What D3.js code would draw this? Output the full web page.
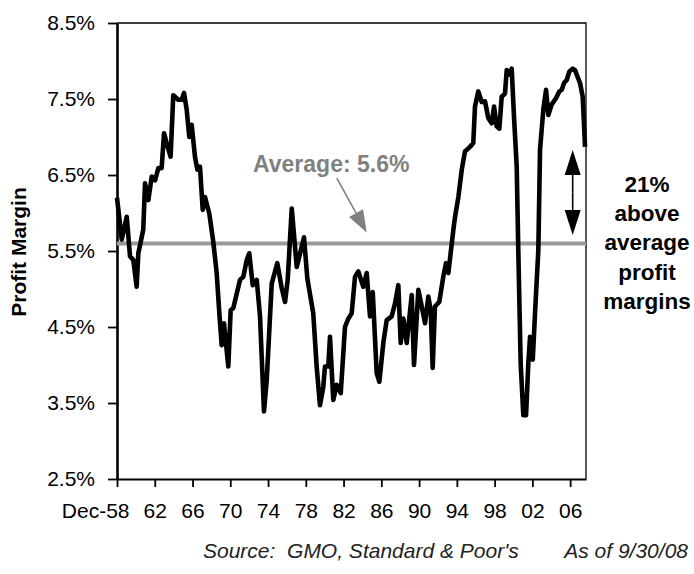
<!DOCTYPE html>
<html>
<head>
<meta charset="utf-8">
<script src="https://cdn.jsdelivr.net/npm/d3@7"></script>
<style>
  body { margin: 0; background: #fff; }
  svg { display: block; font-family: "Liberation Sans", Arial, sans-serif; }
</style>
</head>
<body>
<div id="chart"></div>
<script>
// quarterly-ish readings, decimal year -> profit margin (%)
const years = [
  1958.92, 1959.42, 1959.95, 1960.3, 1960.65, 1961.0, 1961.18, 1961.7, 1961.89, 1962.24,
  1962.6, 1962.95, 1963.3, 1963.65, 1963.9, 1964.18, 1964.6, 1964.88, 1965.41, 1965.77,
  1966.02, 1966.3, 1966.58, 1966.83, 1967.18, 1967.43, 1967.71, 1968.0, 1968.24, 1968.7,
  1969.12, 1969.48, 1969.76, 1970.01, 1970.25, 1970.71, 1970.96, 1971.24, 1971.95, 1972.3,
  1972.66, 1972.93, 1973.3, 1973.72, 1974.07, 1974.49, 1974.78, 1975.31, 1975.9, 1976.37,
  1976.72, 1977.0, 1977.43, 1977.96, 1978.73, 1979.08, 1979.71, 1980.07, 1980.42, 1980.77,
  1980.95, 1981.3, 1981.48, 1981.83, 1982.19, 1982.62, 1983.07, 1983.42, 1983.78, 1984.13,
  1984.48, 1985.01, 1985.37, 1985.72, 1986.01, 1986.43, 1986.71, 1987.13, 1987.49, 1988.02,
  1988.37, 1988.72, 1988.97, 1989.25, 1989.61, 1990.14, 1990.38, 1990.84, 1991.2, 1991.55,
  1991.9, 1992.15, 1992.36, 1992.6, 1993.06, 1993.48, 1993.77, 1994.02, 1994.55, 1994.73,
  1995.08, 1995.44, 1995.78, 1996.31, 1996.66, 1996.84, 1997.19, 1997.55, 1997.9, 1998.25,
  1998.61, 1998.86, 1999.14, 1999.42, 1999.67, 2000.02, 2000.2, 2000.47, 2000.73, 2000.97,
  2001.26, 2001.43, 2001.68, 2001.96, 2002.25, 2002.49, 2002.67, 2002.96, 2003.2, 2003.55,
  2003.73, 2004.08, 2004.37, 2004.61, 2004.97, 2005.42, 2005.77, 2006.03, 2006.27, 2006.56,
  2006.83, 2007.19, 2007.44, 2007.62, 2007.97, 2008.25, 2008.5
];
const margins = [
  6.20, 5.65, 5.95, 5.43, 5.38, 5.03, 5.47, 5.78, 6.39, 6.17,
  6.48, 6.43, 6.59, 6.59, 7.05, 6.92, 6.74, 7.55, 7.49, 7.49,
  7.58, 7.36, 7.00, 7.16, 6.74, 6.57, 6.61, 6.04, 6.21, 5.99,
  5.62, 5.21, 4.68, 4.26, 4.55, 3.98, 4.72, 4.75, 5.12, 5.16,
  5.38, 5.47, 5.05, 5.12, 4.64, 3.39, 3.80, 5.07, 5.34, 5.01,
  4.83, 5.12, 6.06, 5.29, 5.68, 5.14, 4.68, 3.98, 3.47, 3.71,
  3.98, 3.98, 4.37, 3.54, 3.74, 3.63, 4.50, 4.61, 4.68, 5.16,
  5.23, 5.03, 5.21, 4.64, 4.96, 3.89, 3.78, 4.29, 4.59, 4.64,
  4.81, 5.05, 4.29, 4.61, 4.29, 4.92, 4.00, 4.99, 4.77, 4.55,
  4.90, 4.72, 3.96, 4.77, 4.83, 5.16, 5.34, 5.21, 5.78, 5.95,
  6.21, 6.57, 6.81, 6.87, 6.92, 7.40, 7.60, 7.46, 7.47, 7.25,
  7.18, 7.40, 7.14, 7.11, 7.53, 7.57, 7.88, 7.82, 7.90, 7.27,
  6.61, 5.50, 4.02, 3.34, 3.34, 4.02, 4.37, 4.07, 4.68, 5.51,
  6.83, 7.36, 7.62, 7.29, 7.43, 7.51, 7.60, 7.62, 7.71, 7.75,
  7.86, 7.90, 7.88, 7.82, 7.71, 7.53, 6.87
];
const tickYears = [1958, 1962, 1966, 1970, 1974, 1978, 1982, 1986, 1990, 1994, 1998, 2002, 2006];
const tickLabels = ['Dec-58', '62', '66', '70', '74', '78', '82', '86', '90', '94', '98', '02', '06'];
const yTicks = [2.5, 3.5, 4.5, 5.5, 6.5, 7.5, 8.5];
const average = 5.6;
const averageLabel = 'Average: 5.6%';
const noteLines = ['21%', 'above', 'average', 'profit', 'margins'];
const yTitle = 'Profit Margin';
const sourceText = "Source:  GMO, Standard & Poor's";
const asOfText = 'As of 9/30/08';

const W = 694, H = 574;
const plot = { left: 117, right: 586, top: 23, bottom: 479 };

const svg = d3.select('#chart').append('svg')
  .attr('width', W).attr('height', H);

const x = d3.scaleLinear().domain([1958.92, 2008.6]).range([plot.left, plot.right]);
const y = d3.scaleLinear().domain([2.5, 8.5]).range([plot.bottom, plot.top]);

// top / right frame
svg.append('path')
  .attr('d', `M${plot.left},${plot.top}H${plot.right}V${plot.bottom}`)
  .attr('fill', 'none').attr('stroke', '#000').attr('stroke-width', 1.3);

// y axis
const yAxis = svg.append('g')
  .attr('transform', `translate(${plot.left},0)`)
  .call(d3.axisLeft(y).tickValues(yTicks).tickSize(9).tickSizeOuter(0).tickPadding(13)
    .tickFormat(d => d.toFixed(1) + '%'));
yAxis.select('.domain').attr('stroke-width', 2.6);
yAxis.selectAll('.tick line').attr('stroke-width', 1.8);
yAxis.selectAll('text').attr('font-size', 21).attr('fill', '#000')
  .attr('font-family', '"Liberation Sans", Arial, sans-serif');

// x axis
const xAxis = svg.append('g')
  .attr('transform', `translate(0,${plot.bottom})`)
  .call(d3.axisBottom(x).tickValues(tickYears.map(v => v + 0.92)).tickSize(8).tickSizeOuter(0).tickPadding(16)
    .tickFormat((d, i) => tickLabels[i]));
xAxis.select('.domain').attr('stroke-width', 2.2);
xAxis.selectAll('.tick line').attr('stroke-width', 1.8);
xAxis.selectAll('text').attr('font-size', 21).attr('fill', '#000')
  .attr('font-family', '"Liberation Sans", Arial, sans-serif');
// keep "58" centred on its tick, with "Dec-" running left of it
xAxis.selectAll('.tick text').filter((d, i) => i === 0)
  .attr('text-anchor', 'end').attr('x', 12);

// average line
svg.append('line')
  .attr('x1', plot.left).attr('x2', plot.right)
  .attr('y1', y(average)).attr('y2', y(average))
  .attr('stroke', '#9a9a9a').attr('stroke-width', 4);

// profit margin series
const series = years.map((yr, i) => [yr, margins[i]]);
svg.append('path')
  .datum(series)
  .attr('d', d3.line().x(d => x(d[0])).y(d => y(d[1])))
  .attr('fill', 'none').attr('stroke', '#000').attr('stroke-width', 4.6)
  .attr('stroke-linejoin', 'round');

// arrows
function arrow(x1, y1, x2, y2, len, w, color) {
  const a = Math.atan2(y2 - y1, x2 - x1);
  const bx = x2 - len * Math.cos(a), by = y2 - len * Math.sin(a);
  const px = -Math.sin(a) * w / 2, py = Math.cos(a) * w / 2;
  svg.append('line').attr('x1', x1).attr('y1', y1).attr('x2', bx).attr('y2', by)
    .attr('stroke', color).attr('stroke-width', 1.6);
  svg.append('path')
    .attr('d', `M${x2},${y2}L${bx + px},${by + py}L${bx - px},${by - py}Z`)
    .attr('fill', color);
}

svg.append('text')
  .attr('x', 253).attr('y', 172)
  .attr('font-size', 23).attr('font-weight', 'bold').attr('fill', '#808080')
  .text(averageLabel);
arrow(x(1982.2), y(6.46), x(1985.37), y(average) - 11, 22, 16, '#808080');

// double-headed arrow for the gap above average
const ax = x(2007.19);
const yTop = y(6.83), yBot = y(5.71);
const yMid = (yTop + yBot) / 2;
arrow(ax, yMid, ax, yTop, 25, 16, '#000');
arrow(ax, yMid, ax, yBot, 25, 16, '#000');

// side note
svg.append('text')
  .attr('text-anchor', 'middle').attr('font-size', 22.5).attr('font-weight', 'bold').attr('fill', '#000')
  .selectAll('tspan').data(noteLines).join('tspan')
  .attr('x', 647).attr('y', (d, i) => 192 + i * 29.2)
  .text(d => d);

// y title
svg.append('text')
  .attr('transform', `translate(26,252) rotate(-90)`)
  .attr('text-anchor', 'middle').attr('font-size', 21).attr('font-weight', 'bold')
  .text(yTitle);

// source line
svg.append('text')
  .attr('x', 203).attr('y', 558)
  .attr('font-size', 21).attr('font-style', 'italic').attr('fill', '#222')
  .style('white-space', 'pre')
  .text(sourceText);
svg.append('text')
  .attr('x', 688).attr('y', 558).attr('text-anchor', 'end')
  .attr('font-size', 21).attr('font-style', 'italic').attr('fill', '#222')
  .text(asOfText);
</script>
</body>
</html>
